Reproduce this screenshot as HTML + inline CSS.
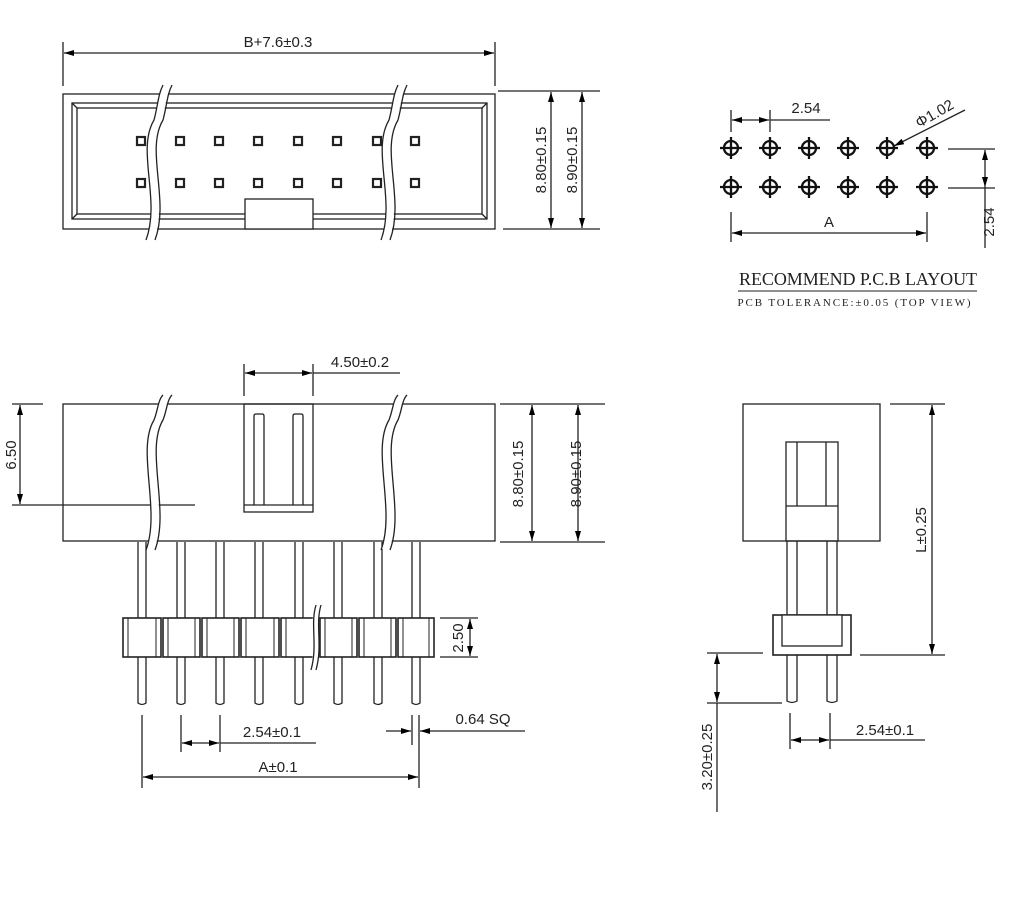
<!DOCTYPE html>
<html><head><meta charset="utf-8"><style>
html,body{margin:0;padding:0;background:#fff;}
svg{display:block;}
text{font-family:"Liberation Sans",sans-serif;font-size:15px;fill:#222;}
.s{font-family:"Liberation Serif",serif;}
</style></head><body>
<svg width="1018" height="915" viewBox="0 0 1018 915" xmlns="http://www.w3.org/2000/svg">
<defs>
<marker id="a" viewBox="0 0 10 6" refX="10" refY="3" markerWidth="10" markerHeight="6" orient="auto-start-reverse" markerUnits="userSpaceOnUse"><path d="M0,0 L10,3 L0,6 z" fill="#000"/></marker>
<g id="h"><circle cx="0" cy="0" r="7"/><line x1="-11" y1="0" x2="11" y2="0"/><line x1="0" y1="-11" x2="0" y2="11"/></g>
</defs>
<g stroke="#222" stroke-width="1.3" fill="none">
<!-- TOP VIEW -->
<rect x="63" y="94" width="432" height="135"/>
<rect x="72" y="103" width="415" height="116"/>
<rect x="77" y="108" width="405" height="106"/>
<line x1="72" y1="103" x2="77" y2="108"/><line x1="487" y1="103" x2="482" y2="108"/>
<line x1="72" y1="219" x2="77" y2="214"/><line x1="487" y1="219" x2="482" y2="214"/>
<rect x="245" y="199" width="68" height="30" fill="#fff"/>
<g stroke-width="2.2">
<rect x="137" y="137" width="8" height="8"/><rect x="176" y="137" width="8" height="8"/><rect x="215" y="137" width="8" height="8"/><rect x="254" y="137" width="8" height="8"/><rect x="294" y="137" width="8" height="8"/><rect x="333" y="137" width="8" height="8"/><rect x="373" y="137" width="8" height="8"/><rect x="411" y="137" width="8" height="8"/>
<rect x="137" y="179" width="8" height="8"/><rect x="176" y="179" width="8" height="8"/><rect x="215" y="179" width="8" height="8"/><rect x="254" y="179" width="8" height="8"/><rect x="294" y="179" width="8" height="8"/><rect x="333" y="179" width="8" height="8"/><rect x="373" y="179" width="8" height="8"/><rect x="411" y="179" width="8" height="8"/>
</g>
<path d="M150,240 C165,200 140,150 158,120 C162,105 162,95 167,85" stroke="#fff" stroke-width="8"/>
<path d="M146,240 C161,200 136,150 154,120 C158,105 158,95 163,85"/>
<path d="M155,240 C170,200 145,150 163,120 C167,105 167,95 172,85"/>
<path d="M385,240 C400,200 375,150 393,120 C397,105 397,95 402,85" stroke="#fff" stroke-width="8"/>
<path d="M381,240 C396,200 371,150 389,120 C393,105 393,95 398,85"/>
<path d="M390,240 C405,200 380,150 398,120 C402,105 402,95 407,85"/>
<line x1="63" y1="42" x2="63" y2="86"/><line x1="495" y1="42" x2="495" y2="86"/>
<line x1="64" y1="53" x2="494" y2="53" marker-start="url(#a)" marker-end="url(#a)"/>
<line x1="498" y1="91" x2="600" y2="91"/><line x1="503" y1="229" x2="600" y2="229"/>
<line x1="551" y1="92" x2="551" y2="228" marker-start="url(#a)" marker-end="url(#a)"/>
<line x1="582" y1="92" x2="582" y2="228" marker-start="url(#a)" marker-end="url(#a)"/>

<!-- PCB -->
<line x1="731" y1="110" x2="731" y2="132"/><line x1="770" y1="110" x2="770" y2="132"/>
<line x1="732" y1="120" x2="769" y2="120" marker-start="url(#a)" marker-end="url(#a)"/>
<line x1="770" y1="120" x2="830" y2="120"/>
<line x1="965" y1="110" x2="894" y2="146" marker-end="url(#a)"/>
<line x1="948" y1="149" x2="995" y2="149"/><line x1="948" y1="188" x2="995" y2="188"/>
<line x1="985" y1="150" x2="985" y2="187" marker-start="url(#a)" marker-end="url(#a)"/>
<line x1="985" y1="187" x2="985" y2="248"/>
<line x1="731" y1="212" x2="731" y2="242"/><line x1="927" y1="212" x2="927" y2="242"/>
<line x1="732" y1="233" x2="926" y2="233" marker-start="url(#a)" marker-end="url(#a)"/>
<line x1="738" y1="291" x2="977" y2="291" stroke-width="1"/>

<!-- FRONT VIEW -->
<rect x="63" y="404" width="432" height="137"/>
<rect x="244" y="404" width="69" height="108"/>
<line x1="244" y1="505" x2="313" y2="505"/>
<path d="M254,505 V416 Q254,414 256,414 H262 Q264,414 264,416 V505"/>
<path d="M293,505 V416 Q293,414 295,414 H301 Q303,414 303,416 V505"/>
<line x1="12" y1="404" x2="43" y2="404"/><line x1="12" y1="505" x2="195" y2="505"/>
<line x1="20" y1="405" x2="20" y2="504" marker-start="url(#a)" marker-end="url(#a)"/>
<line x1="244" y1="364" x2="244" y2="396"/><line x1="313" y1="364" x2="313" y2="396"/>
<line x1="245" y1="373" x2="312" y2="373" marker-start="url(#a)" marker-end="url(#a)"/>
<line x1="313" y1="373" x2="400" y2="373"/>
<line x1="500" y1="404" x2="605" y2="404"/><line x1="500" y1="542" x2="605" y2="542"/>
<line x1="532" y1="405" x2="532" y2="541" marker-start="url(#a)" marker-end="url(#a)"/>
<line x1="578" y1="405" x2="578" y2="541" marker-start="url(#a)" marker-end="url(#a)"/>
<g>
<path d="M138,542 V703 Q142,706 146,703 V542"/><path d="M177,542 V703 Q181,706 185,703 V542"/><path d="M216,542 V703 Q220,706 224,703 V542"/><path d="M255,542 V703 Q259,706 263,703 V542"/><path d="M295,542 V703 Q299,706 303,703 V542"/><path d="M334,542 V703 Q338,706 342,703 V542"/><path d="M374,542 V703 Q378,706 382,703 V542"/><path d="M412,542 V703 Q416,706 420,703 V542"/>
</g>
<g fill="#fff" stroke-width="1.6">
<rect x="123" y="618" width="38" height="39"/><rect x="163" y="618" width="37" height="39"/><rect x="202" y="618" width="37" height="39"/><rect x="241" y="618" width="38" height="39"/><rect x="281" y="618" width="37" height="39"/><rect x="320" y="618" width="37" height="39"/><rect x="359" y="618" width="37" height="39"/><rect x="398" y="618" width="36" height="39"/>
</g>
<g stroke-width="1">
<line x1="128" y1="618" x2="128" y2="657"/><line x1="156" y1="618" x2="156" y2="657"/><line x1="168" y1="618" x2="168" y2="657"/><line x1="195" y1="618" x2="195" y2="657"/><line x1="207" y1="618" x2="207" y2="657"/><line x1="234" y1="618" x2="234" y2="657"/><line x1="246" y1="618" x2="246" y2="657"/><line x1="274" y1="618" x2="274" y2="657"/><line x1="286" y1="618" x2="286" y2="657"/><line x1="325" y1="618" x2="325" y2="657"/><line x1="352" y1="618" x2="352" y2="657"/><line x1="364" y1="618" x2="364" y2="657"/><line x1="391" y1="618" x2="391" y2="657"/><line x1="403" y1="618" x2="403" y2="657"/><line x1="429" y1="618" x2="429" y2="657"/>
</g>
<path d="M313,670 C320,645 312,625 318,605" stroke="#fff" stroke-width="6"/>
<path d="M311,670 C318,645 310,625 316,605"/><path d="M316,670 C323,645 315,625 321,605"/>
<path d="M150,550 C165,510 140,450 158,420 C162,410 162,400 167,395" stroke="#fff" stroke-width="8"/>
<path d="M146,550 C161,510 136,450 154,420 C158,410 158,400 163,395"/>
<path d="M155,550 C170,510 145,450 163,420 C167,410 167,400 172,395"/>
<path d="M385,550 C400,510 375,450 393,420 C397,410 397,400 402,395" stroke="#fff" stroke-width="8"/>
<path d="M381,550 C396,510 371,450 389,420 C393,410 393,400 398,395"/>
<path d="M390,550 C405,510 380,450 398,420 C402,410 402,400 407,395"/>
<line x1="440" y1="618" x2="478" y2="618"/><line x1="440" y1="657" x2="478" y2="657"/>
<line x1="470" y1="619" x2="470" y2="656" marker-start="url(#a)" marker-end="url(#a)"/>
<line x1="142" y1="715" x2="142" y2="788"/><line x1="181" y1="715" x2="181" y2="752"/><line x1="220" y1="715" x2="220" y2="752"/>
<line x1="182" y1="743" x2="219" y2="743" marker-start="url(#a)" marker-end="url(#a)"/>
<line x1="220" y1="743" x2="316" y2="743"/>
<line x1="412" y1="715" x2="412" y2="745"/><line x1="419" y1="715" x2="419" y2="788"/>
<line x1="386" y1="731" x2="411" y2="731" marker-end="url(#a)"/>
<line x1="525" y1="731" x2="420" y2="731" marker-end="url(#a)"/>
<line x1="143" y1="777" x2="418" y2="777" marker-start="url(#a)" marker-end="url(#a)"/>

<!-- SIDE VIEW -->
<rect x="743" y="404" width="137" height="137"/>
<rect x="786" y="442" width="52" height="99"/>
<line x1="797" y1="442" x2="797" y2="506"/><line x1="826" y1="442" x2="826" y2="506"/>
<line x1="786" y1="506" x2="838" y2="506"/>
<path d="M787,541 V701 Q792,704 797,701 V541"/><path d="M827,541 V701 Q832,704 837,701 V541"/>
<rect x="773" y="615" width="78" height="40" fill="#fff" stroke-width="1.6"/>
<rect x="782" y="615" width="60" height="31" fill="#fff"/>
<line x1="890" y1="404" x2="945" y2="404"/><line x1="860" y1="655" x2="945" y2="655"/>
<line x1="932" y1="405" x2="932" y2="654" marker-start="url(#a)" marker-end="url(#a)"/>
<line x1="707" y1="653" x2="763" y2="653"/><line x1="707" y1="703" x2="782" y2="703"/>
<line x1="717" y1="654" x2="717" y2="702" marker-start="url(#a)" marker-end="url(#a)"/>
<line x1="717" y1="703" x2="717" y2="812"/>
<line x1="790" y1="713" x2="790" y2="749"/><line x1="830" y1="713" x2="830" y2="749"/>
<line x1="791" y1="740" x2="829" y2="740" marker-start="url(#a)" marker-end="url(#a)"/>
<line x1="830" y1="740" x2="925" y2="740"/>
</g>
<g stroke="#111" stroke-width="2.3" fill="none">
<use href="#h" x="731" y="148"/><use href="#h" x="770" y="148"/><use href="#h" x="809" y="148"/><use href="#h" x="848" y="148"/><use href="#h" x="887" y="148"/><use href="#h" x="927" y="148"/>
<use href="#h" x="731" y="187"/><use href="#h" x="770" y="187"/><use href="#h" x="809" y="187"/><use href="#h" x="848" y="187"/><use href="#h" x="887" y="187"/><use href="#h" x="927" y="187"/>
</g>
<text x="278" y="47" text-anchor="middle">B+7.6±0.3</text>
<text transform="translate(546,160) rotate(-90)" text-anchor="middle">8.80±0.15</text>
<text transform="translate(577,160) rotate(-90)" text-anchor="middle">8.90±0.15</text>
<text x="806" y="113" text-anchor="middle">2.54</text>
<text transform="translate(937,118) rotate(-30)" text-anchor="middle">Φ1.02</text>
<text transform="translate(994,222) rotate(-90)" text-anchor="middle">2.54</text>
<text x="829" y="227" text-anchor="middle">A</text>
<text class="s" x="858" y="285" text-anchor="middle" style="font-size:18px" textLength="238">RECOMMEND P.C.B LAYOUT</text>
<text class="s" x="854" y="306" text-anchor="middle" style="font-size:11px" textLength="233">PCB TOLERANCE:±0.05 (TOP VIEW)</text>
<text x="360" y="367" text-anchor="middle">4.50±0.2</text>
<text transform="translate(16,455) rotate(-90)" text-anchor="middle">6.50</text>
<text transform="translate(523,474) rotate(-90)" text-anchor="middle">8.80±0.15</text>
<text transform="translate(581,474) rotate(-90)" text-anchor="middle">8.90±0.15</text>
<text transform="translate(463,638) rotate(-90)" text-anchor="middle">2.50</text>
<text x="272" y="737" text-anchor="middle">2.54±0.1</text>
<text x="483" y="724" text-anchor="middle">0.64  SQ</text>
<text x="278" y="772" text-anchor="middle">A±0.1</text>
<text transform="translate(926,530) rotate(-90)" text-anchor="middle">L±0.25</text>
<text transform="translate(712,757) rotate(-90)" text-anchor="middle">3.20±0.25</text>
<text x="885" y="735" text-anchor="middle">2.54±0.1</text>
</svg>
</body></html>
